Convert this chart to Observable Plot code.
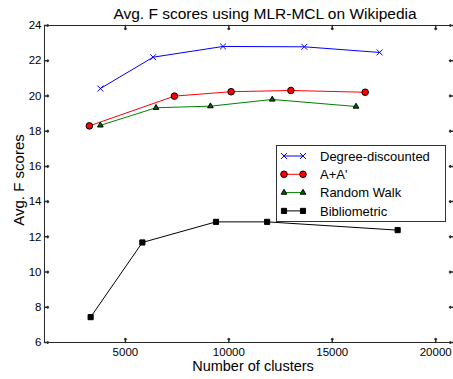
<!DOCTYPE html>
<html><head>
<meta charset="utf-8">
<script src="https://cdn.jsdelivr.net/npm/d3@7"></script>
<script src="https://cdn.jsdelivr.net/npm/@observablehq/plot@0.6"></script>
<style>body{margin:0;background:#fff}</style>
</head><body><div id="chart"></div>
<script>
const seriesNames = ["Degree-discounted", "A+A'", "Random Walk", "Bibliometric"];
const degreeX = [3790, 6340, 9720, 13650, 17290];
const degreeY = [20.42, 22.2, 22.81, 22.79, 22.47];
const aaX = [3260, 7370, 10110, 13000, 16590];
const aaY = [18.30, 19.99, 20.24, 20.31, 20.21];
const rwX = [3790, 6480, 9110, 12100, 16150];
const rwY = [18.33, 19.33, 19.42, 19.8, 19.4];
const biX = [3320, 5820, 9380, 11850, 18160];
const biY = [7.44, 11.68, 12.85, 12.85, 12.38];
const xTicks = [5000, 10000, 15000, 20000];
const yTicks = [6, 8, 10, 12, 14, 16, 18, 20, 22, 24];
const titleText = "Avg. F scores using MLR-MCL on Wikipedia";
const xLabel = "Number of clusters";
const yLabel = "Avg. F scores";

const pts = (xs, ys) => xs.map((x, i) => ({x, y: ys[i]}));
const degree = pts(degreeX, degreeY);
const aa = pts(aaX, aaY);
const rw = pts(rwX, rwY);
const bi = pts(biX, biY);

const styles = [
  {line: "#0000ff", symbol: "times", fill: "none", stroke: "#0000ff", r: 2.8},
  {line: "#ff0000", symbol: "circle", fill: "#ff0000", stroke: "#000", r: 3.3},
  {line: "#008000", symbol: "triangle", fill: "#006400", stroke: "#000", r: 2.1},
  {line: "#000000", symbol: "square", fill: "#000", stroke: "#000", r: 2.9}
];
const datasets = [degree, aa, rw, bi];
const axisColor = "#2a2a2a";
const font = "Liberation Sans, Helvetica, Arial, sans-serif";

function legendMark(index, scales, values, dims) {
  const g = d3.create("svg:g");
  const bx = 276.5, by = 145.5, bw = 169, bh = 76;
  g.append("rect").attr("x", bx).attr("y", by).attr("width", bw).attr("height", bh)
    .attr("fill", "#fff").attr("stroke", "#333").attr("stroke-width", 1);
  const symMap = {times: d3.symbolTimes, circle: d3.symbolCircle, triangle: d3.symbolTriangle, square: d3.symbolSquare};
  seriesNames.forEach((name, i) => {
    const s = styles[i];
    const cy = by + 10.5 + i * 18.3;
    const x1 = 284, x2 = 303;
    g.append("line").attr("x1", x1).attr("x2", x2).attr("y1", cy).attr("y2", cy)
      .attr("stroke", s.line).attr("stroke-width", 1);
    const path = d3.symbol(symMap[s.symbol], Math.PI * s.r * s.r)();
    [x1, x2].forEach(x => {
      g.append("path").attr("d", path).attr("transform", `translate(${x},${cy})`)
        .attr("fill", s.fill).attr("stroke", s.stroke).attr("stroke-width", 1);
    });
    g.append("text").attr("x", 320).attr("y", cy).attr("dy", "0.36em")
      .attr("text-anchor", "start")
      .attr("font-size", 13).attr("font-family", font).attr("fill", "#000").text(name);
  });
  return g.node();
}

const marks = [];
datasets.forEach((d, i) => {
  const s = styles[i];
  marks.push(Plot.line(d, {x: "x", y: "y", stroke: s.line, strokeWidth: 1}));
});
datasets.forEach((d, i) => {
  const s = styles[i];
  marks.push(Plot.dot(d, {x: "x", y: "y", symbol: () => s.symbol, r: s.r, fill: s.fill, stroke: s.stroke, strokeWidth: 1}));
});

const chart = Plot.plot({
  width: 453,
  height: 379,
  marginLeft: 44,
  marginRight: 0,
  marginTop: 25,
  marginBottom: 37,
  style: {fontFamily: font, background: "#fff", overflow: "visible"},
  x: {domain: [1090, 20860]},
  y: {domain: [6, 24]},
  symbol: {type: "identity"},
  marks: [
    ...marks,
    Plot.frame({stroke: axisColor, strokeWidth: 1}),
    Plot.axisX(xTicks, {anchor: "bottom", tickSize: 0, tickPadding: 5, fontSize: 11.5, fill: "#000", label: null, tickFormat: d3.format("d")}),
    Plot.axisY(yTicks, {anchor: "left", tickSize: 0, tickPadding: 3, fontSize: 11.5, fill: "#000", label: null}),
    Plot.vector(xTicks, {x: d => d, frameAnchor: "bottom", rotate: 0, length: 4, anchor: "start", stroke: axisColor}),
    Plot.vector(xTicks, {x: d => d, frameAnchor: "top", rotate: 180, length: 4, anchor: "start", stroke: axisColor}),
    Plot.vector(yTicks, {y: d => d, frameAnchor: "left", rotate: 90, length: 4, anchor: "start", stroke: axisColor}),
    Plot.vector(yTicks, {y: d => d, frameAnchor: "right", rotate: 270, length: 4, anchor: "start", stroke: axisColor}),
    Plot.text([titleText], {frameAnchor: "top", text: d => d, lineAnchor: "bottom", dy: -7, dx: 16, fontSize: 15.5, fill: "#000"}),
    Plot.text([xLabel], {frameAnchor: "bottom", text: d => d, lineAnchor: "bottom", dy: 28, dx: 4, fontSize: 14.5, fill: "#000"}),
    Plot.text([yLabel], {frameAnchor: "left", text: d => d, lineAnchor: "bottom", textAnchor: "middle", rotate: -90, dx: -21, dy: -4, fontSize: 15, fill: "#000"}),
    legendMark
  ]
});
document.getElementById("chart").appendChild(chart);
</script>
</body></html>
